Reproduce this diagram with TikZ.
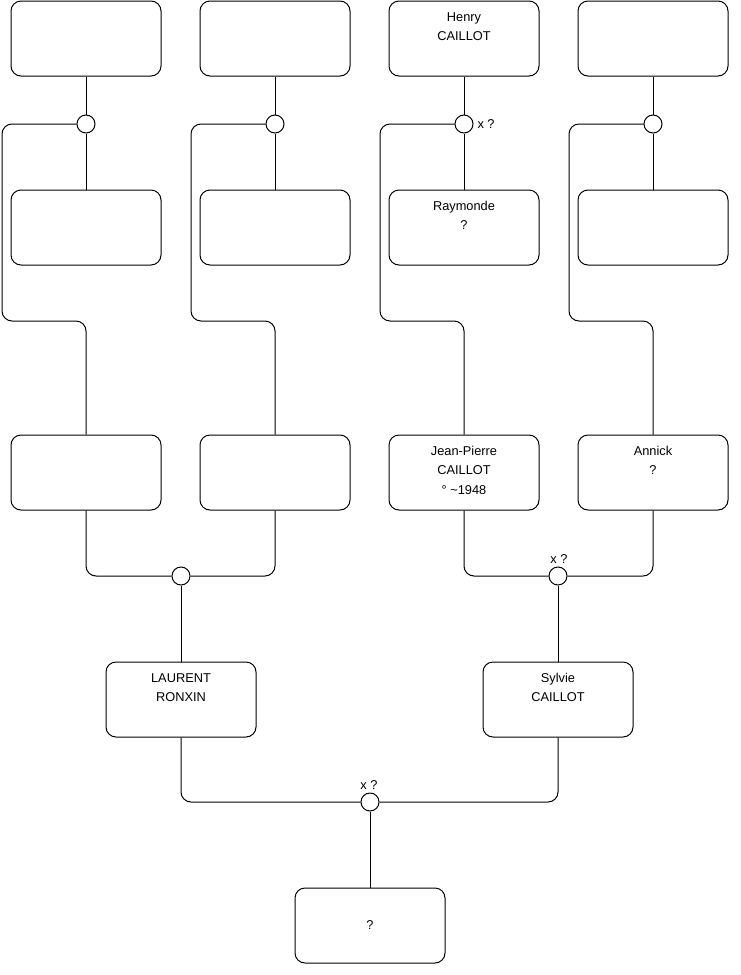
\documentclass[tikz,border=0pt]{standalone}
\usepackage{fontspec}
\setmainfont{Liberation Sans}
\begin{document}
\begin{tikzpicture}[x=1pt,y=-1pt,
  every node/.style={font=\fontsize{12.8}{19.5}\selectfont},
  person/.style={draw, line width=1pt, rounded corners=10pt, minimum width=150pt, minimum height=75pt, inner sep=0pt},
  union/.style={draw, line width=1pt, circle, minimum size=18pt, inner sep=0pt, fill=white},
  lbl/.style={anchor=north, yshift=-11.5pt, align=center, inner sep=0pt},
  link/.style={line width=1pt, rounded corners=10pt}]
\useasboundingbox (0,0) rectangle (740,975);
% row 1
\node[person] (a1) at (86,38.5) {};
\node[person] (b1) at (275,38.5) {};
\node[person, label={[lbl]north:Henry\\CAILLOT}] (c1) at (464,38.5) {};
\node[person] (d1) at (653,38.5) {};
% unions row 1
\node[union] (ua) at (86,124) {};
\node[union] (ub) at (275,124) {};
\node[union] (uc) at (464,124) {};
\node[union] (ud) at (653,124) {};
\node[anchor=west] (xc) at (474,124) {x ?};
% row 2
\node[person] (a2) at (86,227.5) {};
\node[person] (b2) at (275,227.5) {};
\node[person, label={[lbl]north:Raymonde\\?}] (c2) at (464,227.5) {};
\node[person] (d2) at (653,227.5) {};
% row 3
\node[person] (a3) at (86,472.5) {};
\node[person] (b3) at (275,472.5) {};
\node[person, label={[lbl]north:Jean-Pierre\\CAILLOT\\° \textasciitilde1948}] (c3) at (464,472.5) {};
\node[person, label={[lbl]north:Annick\\?}] (d3) at (653,472.5) {};
% unions row 3
\node[union] (uab) at (181,576) {};
\node[union] (ucd) at (558,576) {};
\node[anchor=south] (xcd) at (559,567) {x ?};
% row 4
\node[person, label={[lbl]north:LAURENT\\RONXIN}] (l) at (181,699.5) {};
\node[person, label={[lbl]north:Sylvie\\CAILLOT}] (s) at (558,699.5) {};
% final union
\node[union] (ul) at (370,802) {};
\node[anchor=south] (xl) at (369,793) {x ?};
\node[person] (child) at (370,925.5) {?};
% connectors row1 -> union -> row2
\foreach \p/\u/\q in {a1/ua/a2, b1/ub/b2, c1/uc/c2, d1/ud/d2}{
  \draw[line width=1pt] (\p.south) -- (\u.north);
  \draw[line width=1pt] (\u.south) -- (\q.north);
}
% union -> row3
\draw[link] (ua.west) -- (2,124) -- (2,321) -- (86,321) -- (a3.north);
\draw[link] (ub.west) -- (191,124) -- (191,321) -- (275,321) -- (b3.north);
\draw[link] (uc.west) -- (380,124) -- (380,321) -- (464,321) -- (c3.north);
\draw[link] (ud.west) -- (569,124) -- (569,321) -- (653,321) -- (d3.north);
% row3 -> unions
\draw[link] (a3.south) -- (86,576) -- (uab.west);
\draw[link] (b3.south) -- (275,576) -- (uab.east);
\draw[link] (c3.south) -- (464,576) -- (ucd.west);
\draw[link] (d3.south) -- (653,576) -- (ucd.east);
\draw[line width=1pt] (uab.south) -- (l.north);
\draw[line width=1pt] (ucd.south) -- (s.north);
% row4 -> final
\draw[link] (l.south) -- (181,802) -- (ul.west);
\draw[link] (s.south) -- (558,802) -- (ul.east);
\draw[line width=1pt] (ul.south) -- (child.north);
\end{tikzpicture}
\end{document}
